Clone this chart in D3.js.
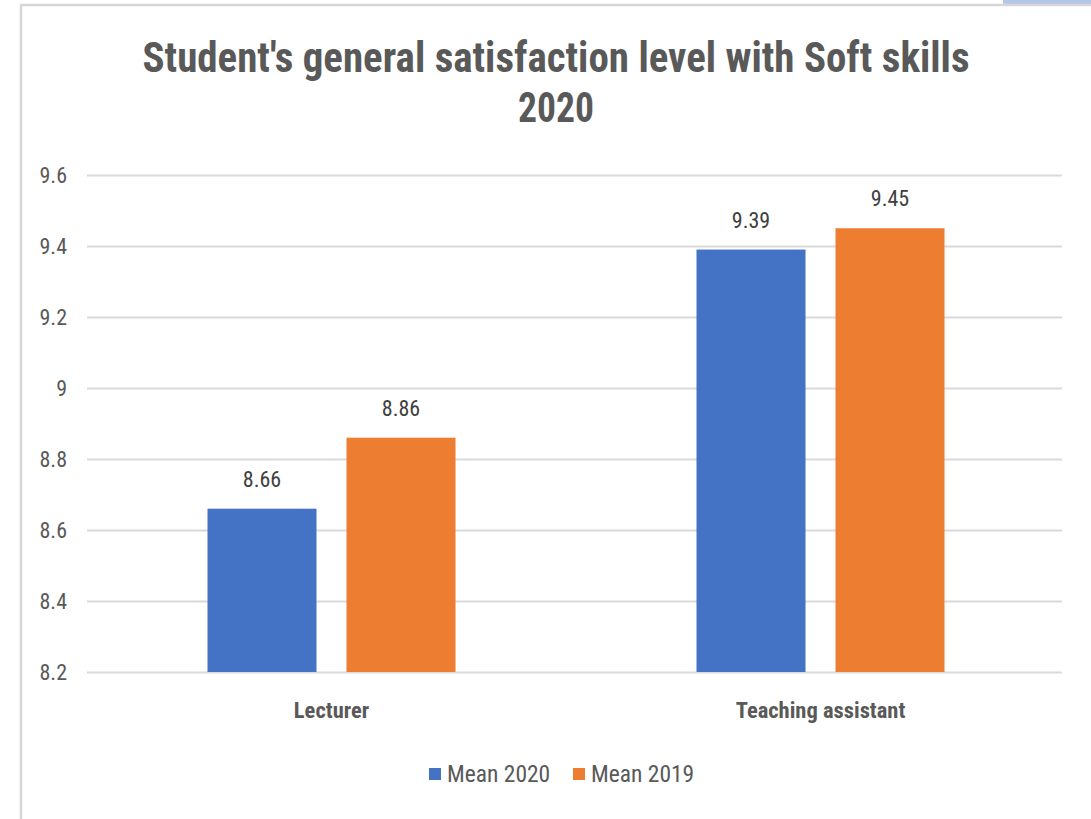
<!DOCTYPE html>
<html><head><meta charset="utf-8">
<script src="https://cdn.jsdelivr.net/npm/d3@7"></script>
<style>body{margin:0;background:#fff}svg{display:block}</style>
</head><body>
<svg id="c" width="1091" height="819"></svg>
<script>
const categories = ["Lecturer", "Teaching assistant"];
const seriesNames = ["Mean 2020", "Mean 2019"];
const mean2020 = [8.66, 9.39];
const mean2019 = [8.86, 9.45];
const yTicks = [8.2, 8.4, 8.6, 8.8, 9, 9.2, 9.4, 9.6];
const colors = ["#4472C4", "#ED7D31"];
const series = [mean2020, mean2019];

(function () {
const svg = d3.select("#c");
const narrow = "'Liberation Sans Narrow','Arial Narrow','Roboto Condensed',sans-serif";

// frame
svg.append("rect").attr("x", 1003).attr("y", 0).attr("width", 88).attr("height", 4).attr("fill", "#b4c7e7");
svg.append("path").attr("d", "M21,819V5H1091").attr("fill", "none").attr("stroke", "#d6d6d6").attr("stroke-width", 2.5);

const pl = 87, pr = 1062, pt = 175, pb = 672;
const y = d3.scaleLinear().domain([8.2, 9.6]).range([pb, pt]);
const x0 = d3.scaleBand().domain(categories).range([pl, pr + 3]);
const x1 = d3.scaleBand().domain(seriesNames).range([0, 248]).paddingInner(30 / 139);

// grid
const yAxis = d3.axisLeft(y).tickValues(yTicks).tickSize(-(pr - pl)).tickFormat(d => d3.format("")(d));
const gy = svg.append("g").attr("transform", `translate(${pl},0)`).call(yAxis);
gy.select(".domain").remove();
gy.selectAll(".tick line").attr("stroke", "#d9d9d9").attr("stroke-width", 2);
gy.selectAll(".tick text").attr("x", -20).attr("fill", "#595959").style("font-family", narrow).style("font-size", "22px");

// bars
const groups = svg.append("g").selectAll("g").data(categories).join("g")
  .attr("transform", d => `translate(${x0(d) + x0.bandwidth() / 2 - 124},0)`);
seriesNames.forEach((s, si) => {
  groups.append("rect")
    .attr("x", x1(s)).attr("width", x1.bandwidth())
    .attr("y", (d, i) => y(series[si][i]))
    .attr("height", (d, i) => pb - y(series[si][i]))
    .attr("fill", colors[si]);
  groups.append("text")
    .attr("x", x1(s) + x1.bandwidth() / 2)
    .attr("y", (d, i) => y(series[si][i]) - 22)
    .attr("text-anchor", "middle").attr("fill", "#404040")
    .style("font-family", narrow).style("font-size", "22px")
    .text((d, i) => series[si][i]);
});

// x axis labels
const xAxis = d3.axisBottom(x0).tickSize(0).tickPadding(0);
const gx = svg.append("g").attr("transform", `translate(0,${pb})`).call(xAxis);
gx.select(".domain").remove();
gx.selectAll(".tick text").attr("y", 30).attr("dy", "0.71em").attr("fill", "#595959")
  .style("font-family", narrow).style("font-size", "22.5px").style("font-weight", "bold");

// title
const title = svg.append("text").attr("text-anchor", "middle").attr("fill", "#595959")
  .style("font-family", narrow).style("font-weight", "bold").style("font-size", "43px");
title.append("tspan").attr("x", 556).attr("y", 72).attr("textLength", 827).attr("lengthAdjust", "spacingAndGlyphs")
  .text("Student's general satisfaction level with Soft skills");
title.append("tspan").attr("x", 556).attr("y", 122).attr("textLength", 76).attr("lengthAdjust", "spacingAndGlyphs").text("2020");

// legend
const legendX = [429, 573];
const lg = svg.append("g").selectAll("g").data(seriesNames).join("g")
  .attr("transform", (d, i) => `translate(${legendX[i]},768)`);
lg.append("rect").attr("width", 12).attr("height", 12).attr("fill", (d, i) => colors[i]);
lg.append("text").attr("x", 18).attr("y", 6).attr("dy", "0.35em").attr("fill", "#595959")
  .style("font-family", narrow).style("font-size", "23.5px").text(d => d);
})();
</script>
</body></html>
